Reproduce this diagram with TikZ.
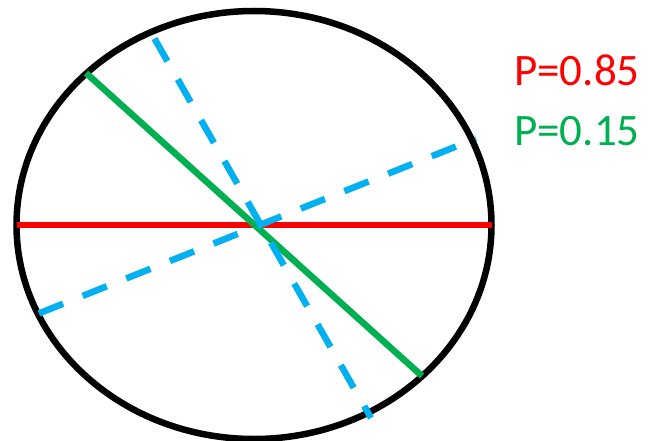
\documentclass[tikz,border=0pt]{standalone}
\usepackage{fontspec}
\setmainfont{Carlito}
\usepackage{tikz}
\usetikzlibrary{positioning}

\definecolor{cutred}{RGB}{255,0,0}
\definecolor{cutgreen}{RGB}{0,176,80}
\definecolor{cutblue}{RGB}{0,176,240}

\begin{document}
\begin{tikzpicture}[x=1pt,y=-1pt,
    rim/.style={draw=black,line width=6.5pt},
    chord/.style={line width=6.5pt},
    dashchord/.style={draw=cutblue,line width=6.5pt,dash pattern=on 26pt off 21pt},
    prob/.style={anchor=base west,inner sep=0pt,font=\fontsize{45}{54}\selectfont}]
    \useasboundingbox (0,0) rectangle (653,441);

    % Ellipse
    \coordinate (c) at (254,225);
    \draw[rim] (c) ellipse [x radius=237.5, y radius=214];

    % Chords
    \coordinate (r1) at (16.5,225);
    \coordinate (r2) at (491.5,225);
    \coordinate (g1) at (86,73);
    \coordinate (g2) at (422,376);
    \draw[chord,cutred] (r1) -- (r2);
    \draw[chord,cutgreen] (g1) -- (g2);

    % Dashed chords
    \coordinate (b1) at (153,36);
    \coordinate (b2) at (371,418);
    \coordinate (b3) at (39,313.4);
    \coordinate (b4) at (476,138.5);
    \draw[dashchord,dash phase=44pt] (b1) -- (b2);
    \draw[dashchord] (b3) -- (b4);

    % Labels
    \node[prob,text=cutred] (pA) at (514,86) {P=0.85};
    \node[prob,text=cutgreen] (pB) at (514,146) {P=0.15};
\end{tikzpicture}
\end{document}
